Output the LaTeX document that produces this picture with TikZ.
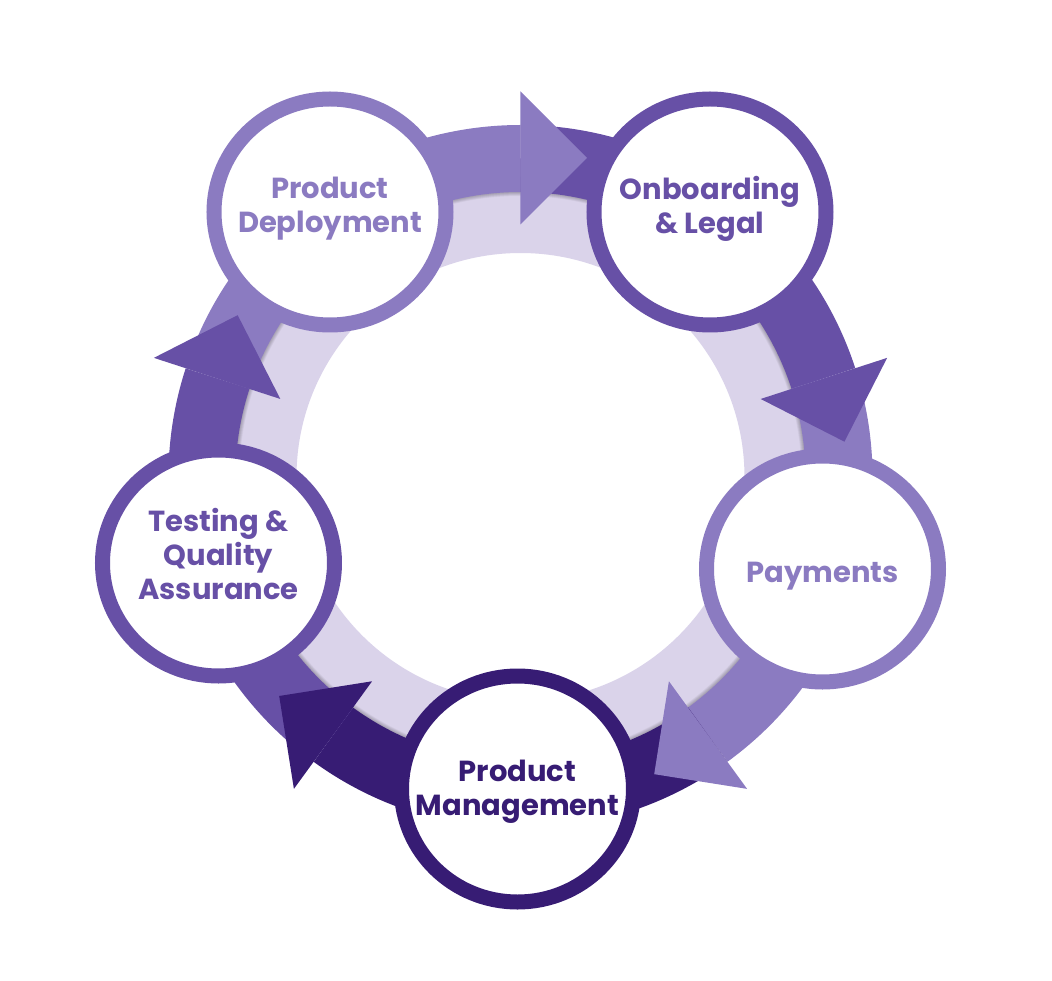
\documentclass[tikz,border=0pt]{standalone}
\usepackage{fontspec}
\setmainfont{Poppins}
\usetikzlibrary{shapes.geometric}
\definecolor{lilac}{HTML}{8B7BC1}
\definecolor{midpurple}{HTML}{6750A6}
\definecolor{deeppurple}{HTML}{371C74}
\definecolor{ringpale}{HTML}{DAD3EA}
\begin{document}
\begin{tikzpicture}[x=1pt, y=1pt,
  stage/.style={ellipse, draw, fill=white, line width=15pt,
    minimum width=232pt, minimum height=226pt, inner sep=0pt},
  caption/.style={align=center, inner sep=0pt, font=\fontsize{29}{34}\selectfont\bfseries},
  band/.style={line width=67pt}]
\useasboundingbox (-520.5,-503) rectangle (531.5,477);

% pale ring and its soft shadow
\fill[ringpale, even odd rule] (0,0) circle[radius=300pt] (0,0) circle[radius=224pt];
\foreach \w in {1,...,8}
  \draw[black, opacity=0.03, line width=\w pt] (0,0) circle[radius=285pt];

% arrow bands, one per stage
\foreach \m/\col in {90/lilac, 18/midpurple, -54/lilac, -126/deeppurple, -198/midpurple}
  \draw[band, \col] (\m+72:318.5pt) arc[start angle=\m+72, end angle=\m, radius=318.5pt];
\foreach \m/\col in {90/lilac, 18/midpurple, -54/lilac, -126/deeppurple, -198/midpurple}
  \fill[\col, rotate=\m] (252.5pt,0) -- (385.5pt,0) -- (319pt,-66.5pt) -- cycle;

\node[stage, draw=lilac] (deploy) at (-190.5,265) {};
\node[stage, draw=midpurple] (onboard) at (189.5,265) {};
\node[stage, draw=lilac] (payments) at (302,-92) {};
\node[stage, draw=deeppurple] (manage) at (-3,-312) {};
\node[stage, draw=midpurple] (testing) at (-302,-86) {};

\node[caption, text=lilac] (deploy-text) at ([yshift=3.5pt]deploy) {Product\\Deployment};
\node[caption, text=midpurple] (onboard-text) at ([yshift=3.5pt]onboard) {Onboarding\\\& Legal};
\node[caption, text=lilac] (payments-text) at ([yshift=-7pt]payments) {Payments};
\node[caption, text=deeppurple] (manage-text) at ([yshift=-2.5pt]manage) {Product\\Management};
\node[caption, text=midpurple] (testing-text) at ([yshift=9.5pt]testing) {Testing \&\\Quality\\Assurance};
\end{tikzpicture}
\end{document}
